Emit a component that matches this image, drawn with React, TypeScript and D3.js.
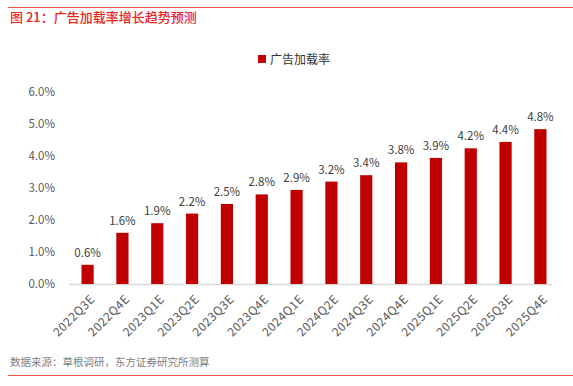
import React from "react";
import * as d3 from "d3";

const categories = ["2022Q3E","2022Q4E","2023Q1E","2023Q2E","2023Q3E","2023Q4E","2024Q1E","2024Q2E","2024Q3E","2024Q4E","2025Q1E","2025Q2E","2025Q3E","2025Q4E"];
const values = [0.006,0.016,0.019,0.022,0.025,0.028,0.0294,0.032,0.034,0.038,0.0394,0.0424,0.0444,0.0484];
const yTicks = [0,0.01,0.02,0.03,0.04,0.05,0.06];
const seriesName = "广告加载率";
const title = "图 21：广告加载率增长趋势预测";
const source = "数据来源：草根调研，东方证券研究所测算";

const W = 573, H = 386;
const RED = "#C00000";
const FONT = "'Noto Sans CJK SC', 'Noto Sans', sans-serif";

export default function App() {
  const x = d3.scaleBand<string>().domain(categories).range([70, 558]).paddingInner(0.65).paddingOuter(0.33);
  const y = d3.scaleLinear().domain([0, 0.06]).range([284, 92]);
  const fmt = d3.format(".1%");
  return (
    <svg width={W} height={H} style={{ position: "absolute", left: 0, top: 0 }} fontFamily={FONT}>
      <line x1={8} x2={W} y1={7.5} y2={7.5} stroke="#E8534F" strokeWidth={1} />
      <text x={10} y={22} fontSize={13} fill="#E8261F" fontWeight={500}>{title}</text>
      <rect x={258} y={55} width={8} height={8} fill={RED} />
      <text x={270} y={64} fontSize={12} fill="#333">{seriesName}</text>
      {yTicks.map(t => (
        <text key={t} x={55} y={y(t) + 4} fontSize={11.5} fill="#595959" textAnchor="end">{fmt(t)}</text>
      ))}
      <line x1={69} x2={552} y1={284.5} y2={284.5} stroke="#D9D9D9" strokeWidth={1.5} />
      {categories.map((c, i) => {
        const bx = x(c)!;
        const cx = bx + x.bandwidth() / 2;
        return (
          <g key={c}>
            <rect x={bx} y={y(values[i])} width={x.bandwidth()} height={y(0) - y(values[i])} fill={RED} />
            <text x={cx} y={y(values[i]) - 8} fontSize={11.5} fill="#404040" textAnchor="middle">{fmt(values[i])}</text>
            <text transform={`translate(${cx + 5},${297}) rotate(-45)`} fontSize={12} letterSpacing={0.5} fill="#595959" textAnchor="end" dy="0.35em">{c}</text>
          </g>
        );
      })}
      <text x={10} y={366} fontSize={10.5} fill="#7F7F7F">{source}</text>
      <line x1={8} x2={W} y1={375.5} y2={375.5} stroke="#E8534F" strokeWidth={1} />
    </svg>
  );
}
